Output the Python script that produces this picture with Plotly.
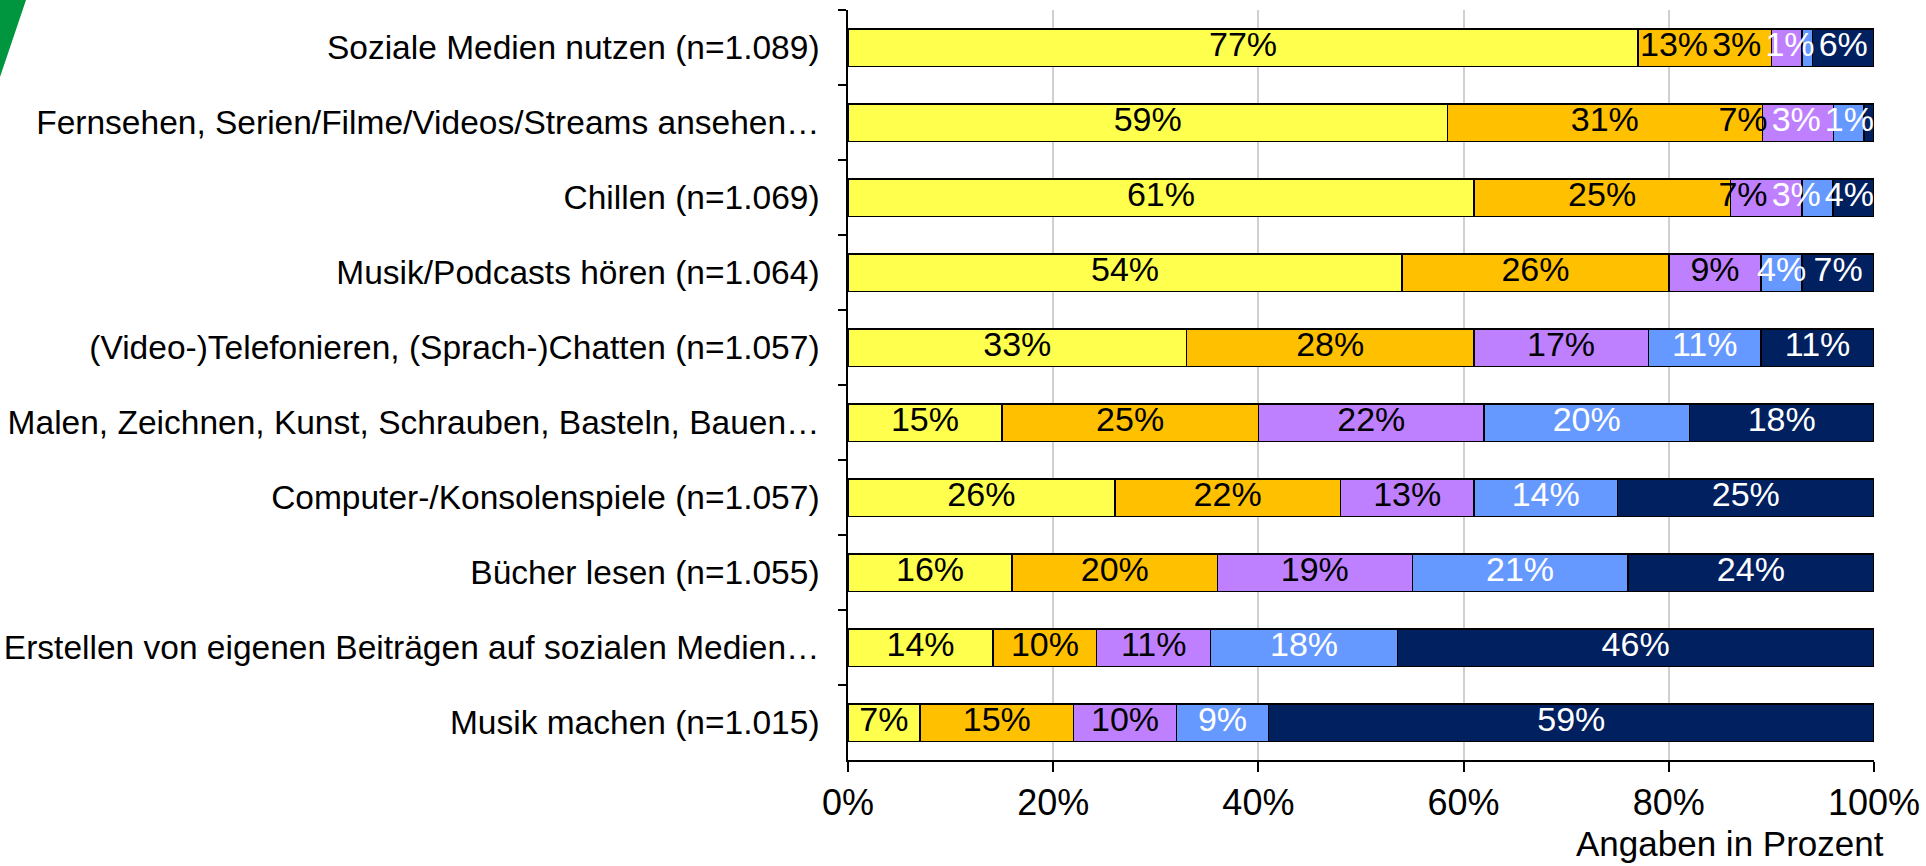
import plotly.graph_objects as go

# Kategorien (von oben nach unten)
kategorien = [
    "Soziale Medien nutzen (n=1.089)",
    "Fernsehen, Serien/Filme/Videos/Streams ansehen…",
    "Chillen (n=1.069)",
    "Musik/Podcasts hören (n=1.064)",
    "(Video-)Telefonieren, (Sprach-)Chatten (n=1.057)",
    "Malen, Zeichnen, Kunst, Schrauben, Basteln, Bauen…",
    "Computer-/Konsolenspiele (n=1.057)",
    "Bücher lesen (n=1.055)",
    "Erstellen von eigenen Beiträgen auf sozialen Medien…",
    "Musik machen (n=1.015)",
]

# Werte in Prozent je Antwortstufe
stufe_1 = [77, 59, 61, 54, 33, 15, 26, 16, 14, 7]
stufe_2 = [13, 31, 25, 26, 28, 25, 22, 20, 10, 15]
stufe_3 = [3, 7, 7, 9, 17, 22, 13, 19, 11, 10]
stufe_4 = [1, 3, 3, 4, 11, 20, 14, 21, 18, 9]
stufe_5 = [6, 1, 4, 7, 11, 18, 25, 24, 46, 59]

x_ticks = [0, 20, 40, 60, 80, 100]
x_tick_labels = ["0%", "20%", "40%", "60%", "80%", "100%"]

FARBEN = ["#FFFF4D", "#FFC000", "#BF80FF", "#6699FF", "#002060"]
TEXTFARBEN = ["black", "black", "black", "white", "white"]
SCHRIFT = "Liberation Sans, Arial, sans-serif"

WIDTH, HEIGHT = 1926, 866
MARGIN = dict(l=848, r=52, t=10, b=106)
LABEL_PX = 34
PX_PRO_PROZENT = (WIDTH - MARGIN["l"] - MARGIN["r"]) / 100.0


def text_breite(text, font_px):
    # grobe Arial-Breiten
    breite = 0.0
    for ch in text:
        breite += 0.889 if ch == "%" else 0.556
    return breite * font_px


def label_positionen(werte):
    """Labels mittig setzen, bei Überlappung nach links schieben."""
    summe = float(sum(werte))
    norm = [v / summe * 100 for v in werte]
    zentren = []
    start = 0.0
    for n in norm:
        zentren.append(start + n / 2)
        start += n
    breiten = [text_breite(f"{v}%", LABEL_PX) / PX_PRO_PROZENT for v in werte]
    grenze = 100.0
    for i in reversed(range(len(werte))):
        rechts = zentren[i] + breiten[i] / 2
        if rechts > grenze:
            zentren[i] = grenze - breiten[i] / 2
        grenze = zentren[i] - breiten[i] / 2 - 0.4
    return zentren


serien = [stufe_1, stufe_2, stufe_3, stufe_4, stufe_5]

fig = go.Figure()

# gestapelte Balken
for idx, werte in enumerate(serien):
    fig.add_trace(
        go.Bar(
            y=kategorien,
            x=werte,
            orientation="h",
            marker=dict(color=FARBEN[idx], line=dict(color="black", width=1.5)),
            name=f"Stufe {idx + 1}",
            showlegend=False,
            hoverinfo="x+y",
        )
    )

# Datenbeschriftungen
positionen = [label_positionen([s[r] for s in serien]) for r in range(len(kategorien))]
for idx, werte in enumerate(serien):
    fig.add_trace(
        go.Scatter(
            y=kategorien,
            x=[positionen[r][idx] for r in range(len(kategorien))],
            mode="text",
            text=[f"{v}%" for v in werte],
            textposition="middle center",
            textfont=dict(family=SCHRIFT, size=LABEL_PX, color=TEXTFARBEN[idx]),
            showlegend=False,
            hoverinfo="skip",
        )
    )

fig.update_layout(
    width=WIDTH,
    height=HEIGHT,
    margin=MARGIN,
    barmode="stack",
    barnorm="percent",
    bargap=0.5,
    plot_bgcolor="white",
    paper_bgcolor="white",
    font=dict(family=SCHRIFT, color="black"),
    showlegend=False,
)

fig.update_xaxes(
    range=[0, 100],
    tickvals=x_ticks,
    ticktext=x_tick_labels,
    tickfont=dict(size=36),
    showgrid=True,
    gridcolor="#D0D0D0",
    gridwidth=1.5,
    zeroline=False,
    showline=True,
    linecolor="black",
    linewidth=1.5,
    ticks="outside",
    ticklen=10,
    tickcolor="black",
    tickwidth=1.5,
    automargin=False,
    fixedrange=True,
)

fig.update_yaxes(
    autorange="reversed",
    tickfont=dict(size=33.5),
    showline=True,
    linecolor="black",
    linewidth=1.5,
    ticks="outside",
    tickson="boundaries",
    ticklen=8,
    tickcolor="black",
    tickwidth=1.5,
    ticklabelstandoff=20,
    showgrid=False,
    automargin=False,
    fixedrange=True,
)

# Achsentitel unten rechts
fig.add_annotation(
    text="Angaben in Prozent",
    xref="paper",
    yref="paper",
    x=1,
    y=0,
    xanchor="right",
    yanchor="middle",
    xshift=12,
    yshift=-83,
    showarrow=False,
    font=dict(family=SCHRIFT, size=35, color="black"),
)

# grüne Ecke oben links
fig.add_shape(
    type="path",
    xref="paper",
    yref="paper",
    xsizemode="pixel",
    ysizemode="pixel",
    xanchor=0,
    yanchor=1,
    path=f"M {-MARGIN['l']},{MARGIN['t']} L {-MARGIN['l'] + 26},{MARGIN['t']} L {-MARGIN['l']},{MARGIN['t'] - 77} Z",
    fillcolor="#009640",
    line=dict(width=0),
    layer="above",
)

# Seitenrand des Browsers entfernen, damit die Grafik bei (0,0) beginnt
fig.write_html(
    "out.html",
    config={"displayModeBar": False},
    post_script="document.body.style.margin='0';",
)
